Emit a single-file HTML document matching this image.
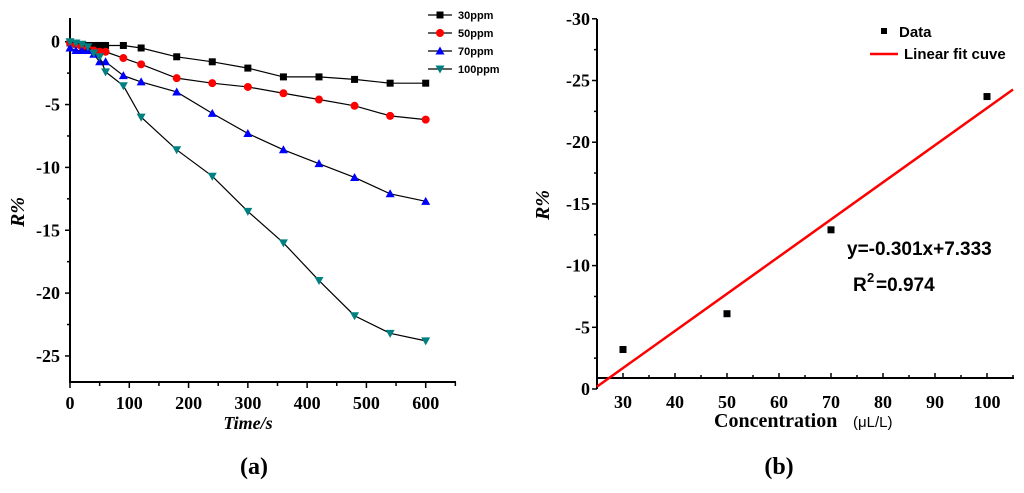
<!DOCTYPE html>
<html><head><meta charset="utf-8"><style>
body{margin:0;background:#fff;width:1024px;height:493px;overflow:hidden}
svg{display:block}
.tk{font-family:"Liberation Serif",serif;font-weight:bold;font-size:18px}
.lg{font-family:"Liberation Sans",sans-serif;font-weight:bold;font-size:11px}
</style></head><body>
<svg id="s" width="1024" height="493"></svg>
<script>
const times=[0,10,20,30,40,50,60,90,120,180,240,300,360,420,480,540,600];
const s30=[-0.1,-0.2,-0.3,-0.3,-0.3,-0.3,-0.3,-0.3,-0.5,-1.2,-1.6,-2.1,-2.8,-2.8,-3.0,-3.3,-3.3];
const s50=[-0.1,-0.2,-0.4,-0.5,-0.7,-0.8,-0.8,-1.3,-1.8,-2.9,-3.3,-3.6,-4.1,-4.6,-5.1,-5.9,-6.2];
const s70=[-0.5,-0.7,-0.7,-0.7,-1.0,-1.6,-1.6,-2.7,-3.2,-4.0,-5.7,-7.3,-8.6,-9.7,-10.8,-12.1,-12.7];
const s100=[0,-0.1,-0.2,-0.4,-0.9,-1.2,-2.4,-3.5,-6.0,-8.6,-10.7,-13.5,-16.0,-19.0,-21.8,-23.2,-23.8];
const seriesNames=["30ppm","50ppm","70ppm","100ppm"];
const xTicksA=[0,100,200,300,400,500,600];
const yTicksA=[0,-5,-10,-15,-20,-25];
const conc=[30,50,70,100];
const rB=[3.2,6.1,12.9,23.7];
const fitSlope=0.301, fitIntercept=-7.333;
const xTicksB=[30,40,50,60,70,80,90,100];
const yTicksB=[0,5,10,15,20,25,30];

const S=document.getElementById('s');const NS='http://www.w3.org/2000/svg';
function el(t,a,txt){const e=document.createElementNS(NS,t);for(const k in a)e.setAttribute(k,a[k]);if(txt!==undefined)e.textContent=txt;S.appendChild(e);return e;}
const xa=t=>70+t*(355.7/600), ya=v=>41.7-v*12.57;
let e;
e=el('path',{d:`M70,18V382H456`,stroke:'#000','stroke-width':2,fill:'none'});


for(let t=0;t<=650;t+=50){el('line',{x1:xa(t),x2:xa(t),y1:382,y2:t%100?386:388,stroke:'#000','stroke-width':1.5});}
for(let v=0;v>=-27;v-=2.5){el('line',{x1:70,x2:v%5?67:65,y1:ya(v),y2:ya(v),stroke:'#000','stroke-width':1.5});}
xTicksA.forEach(t=>{e=el('text',{x:xa(t),y:409,'text-anchor':'middle',class:'tk'},t);

});
yTicksA.forEach(v=>{e=el('text',{x:60,y:ya(v)+6,'text-anchor':'end',class:'tk'},v);

});
e=el('text',{x:248,y:429,'text-anchor':'middle',class:'tk',style:'font-style:italic'},'Time/s');


e=el('text',{x:0,y:0,'text-anchor':'middle',class:'tk',style:'font-style:italic;font-size:20px',transform:'translate(24,212) rotate(-90)'},'R%');


e=el('text',{x:254,y:474,'text-anchor':'middle',class:'tk',style:'font-size:24px'},'(a)');


const cols=['#000','#ff0000','#0000ff','#008080'];
function marker(i,x,y){
 if(i==0)return el('rect',{x:x-3.5,y:y-3.5,width:7,height:7,fill:cols[0]});
 if(i==1)return el('circle',{cx:x,cy:y,r:4,fill:cols[1]});
 if(i==2)return el('path',{d:`M${x},${y-4.5}L${x+4.5},${y+3.5}L${x-4.5},${y+3.5}Z`,fill:cols[2]});
 return el('path',{d:`M${x},${y+4.5}L${x+4.5},${y-3.5}L${x-4.5},${y-3.5}Z`,fill:cols[3]});
}
[s30,s50,s70,s100].forEach((ser,i)=>{
 e=el('polyline',{points:ser.map((v,j)=>xa(times[j])+','+ya(v)).join(' '),fill:'none',stroke:'#000','stroke-width':1.2});
 
 
 ser.forEach((v,j)=>{e=marker(i,xa(times[j]),ya(v));
 
 });
 const ly=15+i*18;
 el('line',{x1:428,x2:452,y1:ly,y2:ly,stroke:'#000','stroke-width':1.2});
 marker(i,440,ly);
 e=el('text',{x:458,y:ly+4,class:'lg'},seriesNames[i]);
 
 
});
const xb=c=>597+(c-25)*5.2, yb=v=>389-v*12.34;
e=el('path',{d:`M597,19V389`,stroke:'#000','stroke-width':2,fill:'none'});


e=el('line',{x1:597,x2:1014,y1:378,y2:378,stroke:'#000','stroke-width':2});


for(let c=25;c<=105;c+=5){el('line',{x1:xb(c),x2:xb(c),y1:378,y2:c%10?375:373,stroke:'#000','stroke-width':1.5});}
for(let v=0;v<=30;v+=2.5){el('line',{x1:597,x2:v%5?594:592,y1:yb(v),y2:yb(v),stroke:'#000','stroke-width':1.5});}
xTicksB.forEach(c=>{e=el('text',{x:xb(c),y:408,'text-anchor':'middle',class:'tk'},c);

});
yTicksB.forEach(v=>{e=el('text',{x:590,y:yb(v)+6,'text-anchor':'end',class:'tk'},v?'-'+v:'0');

});
e=el('text',{x:714,y:427,class:'tk',style:'font-size:20px'},'Concentration');


el('text',{x:853,y:427,class:'lg',style:'font-size:15px;font-weight:normal'},'(μL/L)');
e=el('text',{x:0,y:0,'text-anchor':'middle',class:'tk',style:'font-style:italic;font-size:20px',transform:'translate(549,205) rotate(-90)'},'R%');


e=el('text',{x:779,y:474,'text-anchor':'middle',class:'tk',style:'font-size:24px'},'(b)');


const f=c=>fitSlope*c+fitIntercept;
e=el('line',{x1:xb(25),y1:yb(f(25)),x2:xb(105),y2:yb(f(105)),stroke:'#ff0000','stroke-width':2.5});


conc.forEach((c,j)=>{e=el('rect',{x:xb(c)-3.5,y:yb(rB[j])-3.5,width:7,height:7,fill:'#000'});

});
el('rect',{x:881,y:28,width:6,height:6,fill:'#000'});
e=el('text',{x:899,y:37,class:'lg',style:'font-size:15px'},'Data');


el('line',{x1:870,x2:898,y1:54,y2:54,stroke:'#ff0000','stroke-width':2.5});
e=el('text',{x:904,y:59,class:'lg',style:'font-size:15px'},'Linear fit cuve');


e=el('text',{x:847,y:255,class:'lg',style:'font-size:19px'},'y=-0.301x+7.333');


e=el('text',{x:853,y:291,class:'lg',style:'font-size:19px'},'R');
el('text',{x:867,y:282,class:'lg',style:'font-size:13px'},'2');
e=el('text',{x:876,y:291,class:'lg',style:'font-size:19px'},'=0.974');


</script>
</body></html>
